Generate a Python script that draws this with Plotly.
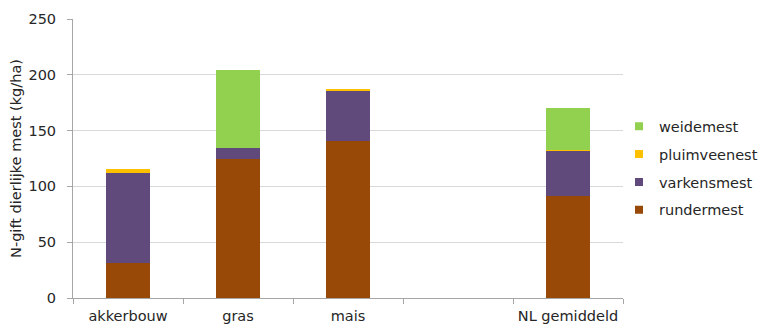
import plotly.graph_objects as go

# Categories (blank slot between "mais" and "NL gemiddeld")
categories = ["akkerbouw", "gras", "mais", " ", "NL gemiddeld"]

# N-gift per mestsoort (kg/ha)
rundermest = [31, 125, 141, None, 91]
varkensmest = [81, 9, 45, None, 41]
pluimveemest = [4, 0, 1, None, 1]
weidemest = [0, 70.5, 0, None, 37]

series = [
    ("rundermest", rundermest, "#984807"),
    ("varkensmest", varkensmest, "#604A7B"),
    ("pluimveenest", pluimveemest, "#FFC000"),
    ("weidemest", weidemest, "#92D050"),
]

font_family = "DejaVu Sans, Verdana, sans-serif"
text_color = "#262626"

W, H = 760, 327
ML, MT, MB = 73, 19, 29
plot_w = 550  # width of the plotting area in px
paper_w = W - ML

fig = go.Figure()
n = len(series)
for i, (name, vals, color) in enumerate(series):
    fig.add_trace(go.Bar(
        x=categories, y=vals, name=name,
        marker=dict(color=color, line=dict(width=0)),
        legendgroup=name, showlegend=False,
    ))
    # small square legend key
    fig.add_trace(go.Scatter(
        x=[None], y=[None], mode="markers", name=name,
        marker=dict(symbol="square", size=8, color=color),
        legendgroup=name, legendrank=n - i, showlegend=True,
    ))

fig.update_layout(
    barmode="stack",
    bargap=0.6,
    width=W, height=H,
    margin=dict(l=ML, r=0, t=MT, b=MB, autoexpand=False),
    paper_bgcolor="white",
    plot_bgcolor="white",
    font=dict(family=font_family, size=14.5, color=text_color),
    showlegend=True,
    legend=dict(
        x=(619 - ML) / paper_w, y=0.465, xanchor="left", yanchor="middle",
        traceorder="grouped", tracegroupgap=6,
        font=dict(size=14.5, color=text_color),
        itemwidth=30,
        bgcolor="rgba(0,0,0,0)",
    ),
    xaxis=dict(
        domain=[0, plot_w / paper_w],
        type="category",
        categoryorder="array", categoryarray=categories,
        tickson="boundaries", ticks="outside", ticklen=5,
        tickcolor="#a6a6a6",
        showline=True, linecolor="#a6a6a6", linewidth=1,
        showgrid=False,
        tickangle=0,
        tickfont=dict(size=14.5, color=text_color),
        ticklabelstandoff=5,
    ),
    yaxis=dict(
        range=[0, 250], dtick=50,
        ticks="outside", ticklen=5, tickcolor="#a6a6a6",
        showline=True, linecolor="#a6a6a6", linewidth=1,
        showgrid=True, gridcolor="#d9d9d9", gridwidth=1,
        zeroline=False,
        tickfont=dict(size=14.5, color=text_color),
        ticklabelstandoff=8,
        title=dict(text="N-gift dierlijke mest (kg/ha)",
                   font=dict(size=14.5, color=text_color), standoff=3),
    ),
)

fig.write_html("out.html")
